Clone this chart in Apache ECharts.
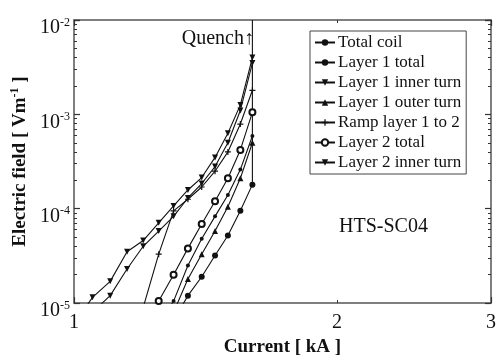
<!DOCTYPE html>
<html>
<head>
<meta charset="utf-8">
<script src="https://cdn.jsdelivr.net/npm/echarts@6/dist/echarts.min.js"></script>
<style>
  html, body { margin: 0; padding: 0; background: #fff; }
  #main { width: 499px; height: 362px; }
</style>
</head>
<body>
<div id="main"></div>
<script>
// data: [current kA, electric field V/m]
const totalCoil = [[1.25, 6e-6], [1.30, 1.05e-5], [1.35, 2.5e-5], [1.40, 4.8e-5], [1.45, 8.3e-5], [1.50, 1.4e-4], [1.55, 2.6e-4], [1.60, 5.9e-4]];
const layer1Total = [[1.30, 6.5e-6], [1.35, 1.2e-5], [1.40, 1.9e-5], [1.45, 3.2e-5], [1.50, 5.2e-5], [1.55, 9.5e-5], [1.60, 1.8e-4]];
const layer1Inner = [[1.00, 6e-6], [1.05, 1.15e-5], [1.10, 1.7e-5], [1.15, 3.5e-5], [1.20, 4.6e-5], [1.25, 7.1e-5], [1.30, 1.07e-4], [1.35, 1.58e-4], [1.40, 2.14e-4], [1.45, 3.5e-4], [1.50, 6.3e-4], [1.55, 1.26e-3], [1.60, 4.0e-3]];
const layer1Outer = [[1.30, 8e-6], [1.35, 1.8e-5], [1.40, 3.3e-5], [1.45, 5.8e-5], [1.50, 1.05e-4], [1.55, 2.1e-4], [1.60, 5.0e-4]];
const rampLayer = [[1.20, 9e-6], [1.25, 3.3e-5], [1.30, 9.5e-5], [1.35, 1.26e-4], [1.40, 1.7e-4], [1.45, 2.5e-4], [1.50, 4.0e-4], [1.55, 7.9e-4], [1.60, 1.8e-3]];
const layer2Total = [[1.20, 6e-6], [1.25, 1.05e-5], [1.30, 2.0e-5], [1.35, 3.8e-5], [1.40, 6.9e-5], [1.45, 1.2e-4], [1.50, 2.1e-4], [1.55, 4.2e-4], [1.60, 1.05e-3]];
const layer2Inner = [[1.05, 8e-6], [1.10, 1.2e-5], [1.15, 2.3e-5], [1.20, 4.0e-5], [1.25, 5.8e-5], [1.30, 8.3e-5], [1.35, 1.3e-4], [1.40, 1.85e-4], [1.45, 2.8e-4], [1.50, 5.0e-4], [1.55, 1.1e-3], [1.60, 3.5e-3]];
const quenchLine = [[1.60, 1e-2], [1.60, 1.8e-4]];

// axis labels
const xLabels = [1, 2, 3];
const yLabels = [1e-5, 1e-4, 1e-3, 1e-2];

const serif = 'Liberation Serif';
const ink = '#111';
const axisCol = '#555';
const plusPath = 'path://M4,0H6V4H10V6H6V10H4V6H0V4H4Z';

var myChart = echarts.init(document.getElementById('main'));

function lineSeries(name, data, symbol, size, rotate) {
  return {
    name: name,
    type: 'line',
    data: data,
    symbol: symbol,
    symbolSize: size,
    symbolRotate: rotate || 0,
    lineStyle: { color: ink, width: 1.1 },
    itemStyle: { color: ink },
    clip: true,
    z: 3,
  };
}

const lineStyleAxis = { show: true, onZero: false, lineStyle: { color: axisCol, width: 1.5 } };

// frame on all four sides, ticks pointing in
function logAxis(pos, min, max, extra) {
  return Object.assign({
    type: 'log', min: min, max: max, position: pos,
    axisLine: lineStyleAxis,
    axisTick: { show: true, inside: true, length: 6, lineStyle: { color: '#333', width: 1.2 } },
    minorTick: { show: true, splitNumber: 9, length: 3, lineStyle: { color: '#333', width: 1 } },
    axisLabel: { show: false },
    splitLine: { show: false },
  }, extra || {});
}

myChart.setOption({
  animation: false,
  grid: { left: 74, right: 4, top: 20, bottom: 42 },
  legend: {
    orient: 'vertical',
    left: 310,
    top: 31,
    padding: [3, 5, 3, 4],
    itemWidth: 20,
    itemHeight: 8,
    itemGap: 3,
    borderColor: '#444',
    borderWidth: 1,
    backgroundColor: '#fff',
    textStyle: { fontFamily: serif, fontSize: 17, lineHeight: 16, color: ink, padding: [0, 0, 0, -2] },
    data: ['Total coil', 'Layer 1 total', 'Layer 1 inner turn', 'Layer 1 outer turn', 'Ramp layer 1 to 2', 'Layer 2 total', 'Layer 2 inner turn'],
  },
  xAxis: [
    logAxis('bottom', 1, 3, {
      name: 'Current [ kA ]',
      nameLocation: 'middle',
      nameGap: 21,
      nameTextStyle: { fontFamily: serif, fontWeight: 'bold', fontSize: 19, color: ink },
      axisLabel: {
        show: true,
        customValues: xLabels,
        fontFamily: serif,
        fontSize: 20,
        color: ink,
        margin: 2,
        padding: [8, 0, 0, 0],
        formatter: (v) => String(Math.round(v)),
      },
    }),
    logAxis('top', 1, 3),
  ],
  yAxis: [
    logAxis('left', 1e-5, 1e-2, {
      name: '{n|Electric field [ Vm}{s|-1}{n| ]}',
      nameLocation: 'middle',
      nameGap: 36,
      nameTextStyle: {
        rich: {
          n: { fontFamily: serif, fontWeight: 'bold', fontSize: 19, color: ink },
          s: { fontFamily: serif, fontWeight: 'bold', fontSize: 12, color: ink, verticalAlign: 'bottom', padding: [0, 0, 9, 0] },
        },
      },
      axisLabel: {
        show: true,
        customValues: yLabels,
        margin: 4,
        padding: [16, 0, 0, 0],
        formatter: (v) => '{b|10}{e|' + Math.round(Math.log10(v)) + '}',
        rich: {
          b: { fontFamily: serif, fontSize: 20, color: ink },
          e: { fontFamily: serif, fontSize: 12, color: ink, verticalAlign: 'bottom', padding: [0, 0, 11, 0] },
        },
      },
    }),
    logAxis('right', 1e-5, 1e-2),
  ],
  series: [
    lineSeries('Total coil', totalCoil, 'circle', 4),
    lineSeries('Layer 1 total', layer1Total, 'circle', 6),
    lineSeries('Layer 1 inner turn', layer1Inner, 'triangle', 6, 180),
    lineSeries('Layer 1 outer turn', layer1Outer, 'triangle', 6),
    lineSeries('Ramp layer 1 to 2', rampLayer, plusPath, 6),
    lineSeries('Layer 2 total', layer2Total, 'emptyCircle', 6),
    lineSeries('Layer 2 inner turn', layer2Inner, 'triangle', 6, 180),
    {
      name: 'quench',
      type: 'line',
      data: quenchLine,
      symbol: 'none',
      lineStyle: { color: ink, width: 1.1 },
      z: 2,
    },
  ],
  graphic: [
    { type: 'text', right: 499 - 254, top: 29, style: { text: 'Quench↑', font: '20px "Liberation Serif"', fill: ink } },
    { type: 'text', left: 339, top: 217, style: { text: 'HTS-SC04', font: '20px "Liberation Serif"', fill: ink } },
  ],
});
</script>
</body>
</html>
